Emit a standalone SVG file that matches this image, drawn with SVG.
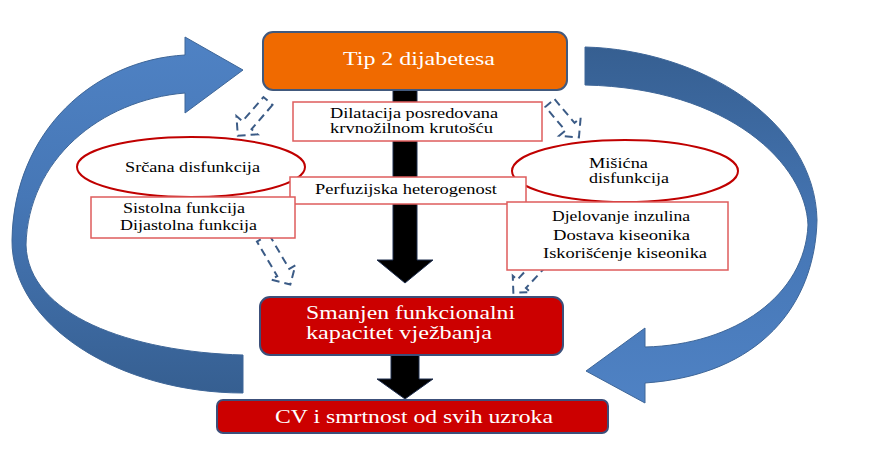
<svg xmlns="http://www.w3.org/2000/svg" width="879" height="449" viewBox="0 0 879 449">
<style>
.blk{font-family:"Liberation Serif","Times New Roman",serif;font-size:14px;fill:#000}
.wht{font-family:"Liberation Serif","Times New Roman",serif;font-size:19px;fill:#fff}
.wbox{fill:#fff;stroke:#de5c5c;stroke-width:1.5}
.ell{fill:#fff;stroke:#c00000;stroke-width:2}
.dash{fill:none;stroke:#3b5b86;stroke-width:2;stroke-dasharray:8 5}
.bk{fill:#000;stroke:#1f2f4f;stroke-width:1}
</style>
<defs>
<linearGradient id="gl" x1="0" y1="0" x2="0" y2="1">
<stop offset="0" stop-color="#4f82c4"/><stop offset="0.45" stop-color="#4677b6"/><stop offset="1" stop-color="#365f91"/>
</linearGradient>
<linearGradient id="gr" x1="0" y1="0" x2="0" y2="1">
<stop offset="0" stop-color="#365f91"/><stop offset="0.55" stop-color="#4677b6"/><stop offset="1" stop-color="#4f82c4"/>
</linearGradient>
</defs>
<rect width="879" height="449" fill="#fff"/>
<g id="connectors">
<path d="M185,55 C95,60 14,130 12,240 C11,325 120,393 243,393 L243,355 C130,352 28,315 26,245 C28,160 100,100 185,93 L185,113 L243,70 L185,37 Z" fill="url(#gl)" stroke="#3e6698" stroke-width="1"/>
<path d="M585,47 C700,50 815,120 817,220 C815,305 760,375 645,383 L645,403 L586,371 L645,328 L645,347 C735,345 805,295 808,225 C806,165 730,88 585,85 Z" fill="url(#gr)" stroke="#3e6698" stroke-width="1"/>
<path class="bk" d="M393,90 L417,90 L417,260 L433,260 L405,283 L377,260 L393,260 Z"/>
<path class="bk" d="M391,355 L419,355 L419,379 L433,379 L405,399 L377,379 L391,379 Z"/>
<path class="dash" transform="translate(268,101) rotate(131)" d="M0,-6 L32,-6 L32,-14 L46,0 L32,14 L32,6 L0,6 Z"/>
<path class="dash" transform="translate(550,103) rotate(50)" d="M0,-6 L31,-6 L31,-14 L45,0 L31,14 L31,6 L0,6 Z"/>
<path class="dash" transform="translate(263,238) rotate(59.6)" d="M0,-7 L40,-7 L40,-14 L54,0 L40,14 L40,7 L0,7 Z"/>
<path class="dash" transform="translate(542,262) rotate(133)" d="M0,-6 L30,-6 L30,-12 L42,0 L30,12 L30,6 L0,6 Z"/>
</g>
<g id="srcana">
<ellipse class="ell" cx="191" cy="167" rx="114" ry="30"/>
<text class="blk" x="125" y="172" textLength="135" lengthAdjust="spacingAndGlyphs">Srčana disfunkcija</text>
</g>
<g id="misicna">
<ellipse class="ell" cx="625" cy="171" rx="113" ry="31"/>
<text class="blk" x="589" y="168" textLength="59" lengthAdjust="spacingAndGlyphs">Mišićna</text>
<text class="blk" x="589" y="183" textLength="80" lengthAdjust="spacingAndGlyphs">disfunkcija</text>
</g>
<g id="tip2">
<rect x="263" y="32" width="304" height="58" rx="10" fill="#f06a00" stroke="#41597d" stroke-width="2"/>
<text class="wht" x="343" y="65" textLength="152" lengthAdjust="spacingAndGlyphs">Tip 2 dijabetesa</text>
</g>
<g id="dilatacija">
<rect class="wbox" x="293" y="102" width="249" height="39"/>
<text class="blk" x="330" y="118" textLength="168" lengthAdjust="spacingAndGlyphs">Dilatacija posredovana</text>
<text class="blk" x="330" y="133" textLength="163" lengthAdjust="spacingAndGlyphs">krvnožilnom krutošću</text>
</g>
<g id="perfuzija">
<rect class="wbox" x="290" y="177" width="236" height="27"/>
<text class="blk" x="315" y="194" textLength="182" lengthAdjust="spacingAndGlyphs">Perfuzijska heterogenost</text>
</g>
<g id="sistolna">
<rect class="wbox" x="91" y="197" width="204" height="41"/>
<text class="blk" x="123" y="213" textLength="122" lengthAdjust="spacingAndGlyphs">Sistolna funkcija</text>
<text class="blk" x="120" y="230" textLength="137" lengthAdjust="spacingAndGlyphs">Dijastolna funkcija</text>
</g>
<g id="djelovanje">
<rect class="wbox" x="507" y="202" width="221" height="68"/>
<text class="blk" x="552" y="221" textLength="138" lengthAdjust="spacingAndGlyphs">Djelovanje inzulina</text>
<text class="blk" x="553" y="240" textLength="137" lengthAdjust="spacingAndGlyphs">Dostava kiseonika</text>
<text class="blk" x="543" y="258" textLength="164" lengthAdjust="spacingAndGlyphs">Iskorišćenje kiseonika</text>
</g>
<g id="smanjen">
<rect x="260" y="297" width="303" height="58" rx="10" fill="#cc0000" stroke="#3c4f7a" stroke-width="2"/>
<text class="wht" x="306" y="319" textLength="209" lengthAdjust="spacingAndGlyphs">Smanjen funkcionalni</text>
<text class="wht" x="306" y="339" textLength="186" lengthAdjust="spacingAndGlyphs">kapacitet vježbanja</text>
</g>
<g id="cv">
<rect x="217" y="400" width="391" height="33" rx="6" fill="#cc0000" stroke="#3c4f7a" stroke-width="2"/>
<text class="wht" x="275" y="423" textLength="278" lengthAdjust="spacingAndGlyphs">CV i smrtnost od svih uzroka</text>
</g>
</svg>
